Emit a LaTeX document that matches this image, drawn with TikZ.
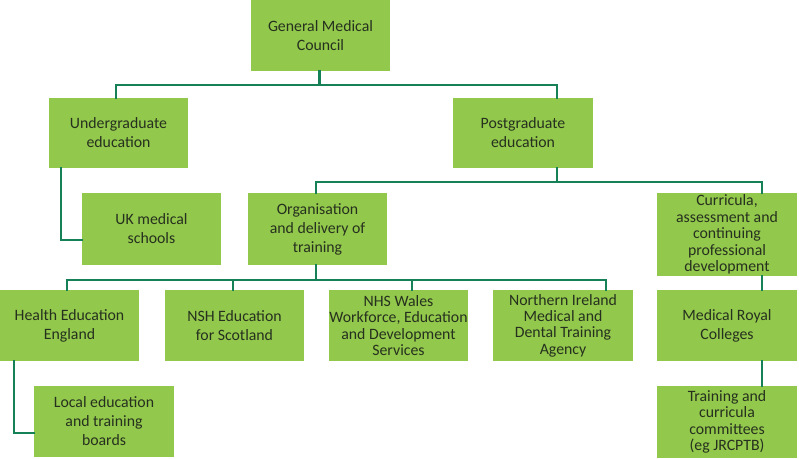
\documentclass[tikz,border=0pt]{standalone}
\usepackage{fontspec}
\setmainfont{Carlito}
\definecolor{boxgreen}{RGB}{146,200,76}
\definecolor{linegreen}{RGB}{22,128,86}
\definecolor{txt}{RGB}{38,48,30}
\tikzset{
  box/.style={rectangle, fill=boxgreen, inner sep=0pt, align=center, text=txt,
    font=\fontsize{15.8}{19}\selectfont},
  tight/.style={font=\fontsize{15.8}{16.4}\selectfont},
  conn/.style={draw=linegreen, line width=2.6pt, line join=miter, line cap=rect}
}
\begin{document}
\begin{tikzpicture}[x=1pt,y=-1pt]
\useasboundingbox[fill=white] (0,0) rectangle (799,458);
% nodes
\node[box, minimum width=139pt, minimum height=71pt] (gmc) at (320.5,35.5) {General Medical\\Council};
\node[box, minimum width=139pt, minimum height=70pt] (ug) at (118.5,133) {Undergraduate\\education};
\node[box, minimum width=140pt, minimum height=70pt] (pg) at (523,133) {Postgraduate\\education};
\node[box, minimum width=139pt, minimum height=72pt] (uk) at (151.5,229) {UK medical\\schools};
\node[box, minimum width=139pt, minimum height=72pt] (org) at (317.5,229) {Organisation\\and delivery of\\training};
\node[box, tight, minimum width=140pt, minimum height=83pt] (cur) at (727,234.5) {Curricula,\\assessment and\\continuing\\professional\\development};
\node[box, minimum width=139pt, minimum height=71pt] (hee) at (69.5,325.5) {Health Education\\England};
\node[box, minimum width=139pt, minimum height=71pt] (nsh) at (234.5,325.5) {NSH Education\\for Scotland};
\node[box, tight, minimum width=139pt, minimum height=71pt] (wal) at (398.5,325.5) {NHS Wales\\Workforce, Education\\and Development\\Services};
\node[box, tight, minimum width=140pt, minimum height=71pt] (ni) at (563,325.5) {Northern Ireland\\Medical and\\Dental Training\\Agency};
\node[box, minimum width=140pt, minimum height=71pt] (mrc) at (727,325.5) {Medical Royal\\Colleges};
\node[box, tight, minimum width=140pt, minimum height=72pt] (tr) at (727,422) {Training and\\curricula\\committees\\(eg JRCPTB)};
\node[box, minimum width=140pt, minimum height=71pt] (loc) at (104,421.5) {Local education\\and training\\boards};
% connectors
\coordinate (j1) at (319.5,85);
\draw[conn] (gmc.south -| j1) -- (j1);
\draw[conn] (ug.north -| 116,0) |- (j1) -| (pg.north -| 557,0);
\draw[conn] (ug.south -| 61,0) |- (uk.west |- 0,240);
\coordinate (j2) at (557,182);
\draw[conn] (pg.south -| j2) -- (j2);
\draw[conn] (org.north -| 316,0) |- (j2) -| (cur.north -| 762,0);
\coordinate (j3) at (316,280);
\draw[conn] (org.south -| j3) -- (j3);
\draw[conn] (hee.north -| 67,0) |- (j3) -| (ni.north -| 606,0);
\draw[conn] (nsh.north -| 233,0) -- (233,280);
\draw[conn] (wal.north -| 412,0) -- (412,280);
\draw[conn] (cur.south -| 762,0) -- (mrc.north -| 762,0);
\draw[conn] (mrc.south -| 762,0) -- (tr.north -| 762,0);
\draw[conn] (hee.south -| 14,0) |- (loc.west |- 0,433);
\end{tikzpicture}
\end{document}
